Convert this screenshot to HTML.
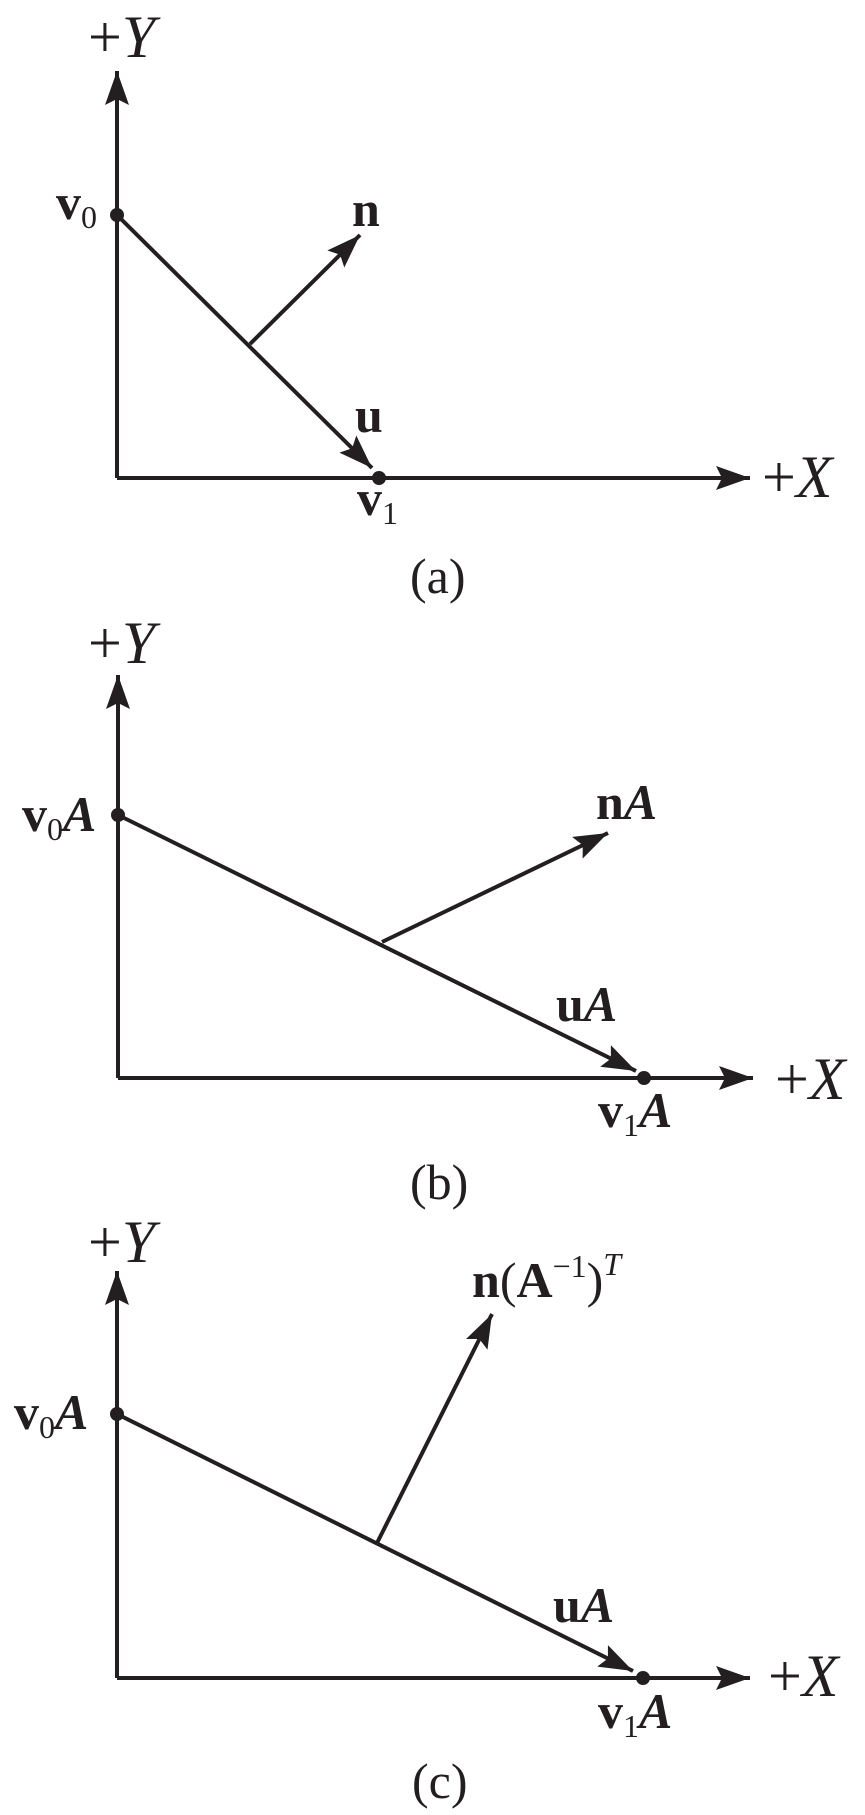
<!DOCTYPE html>
<html><head><meta charset="utf-8"><style>
html,body{margin:0;padding:0;background:#fff;}
svg{display:block}
text{font-family:"Liberation Serif",serif;fill:#231f20}
.b{font-weight:bold}
.i{font-style:italic}
</style></head><body>
<svg width="865" height="1815" viewBox="0 0 865 1815" xmlns="http://www.w3.org/2000/svg">
<defs>
<marker id="ah" markerUnits="userSpaceOnUse" markerWidth="40" markerHeight="30" refX="34" refY="12" orient="auto">
<path d="M34,12 L0,0 L6,12 L0,24 Z" fill="#231f20"/>
</marker>
</defs>
<g stroke="#231f20" stroke-width="4" fill="none">
<polyline points="117,478 117,71" marker-end="url(#ah)"/>
<polyline points="117,478 750,478" marker-end="url(#ah)"/>
<line x1="117" y1="215" x2="372" y2="468" marker-end="url(#ah)"/>
<line x1="250" y1="344" x2="360" y2="235" marker-end="url(#ah)"/>
<polyline points="118,1078 118,675" marker-end="url(#ah)"/>
<polyline points="118,1078 753,1078" marker-end="url(#ah)"/>
<line x1="118" y1="815" x2="636" y2="1071" marker-end="url(#ah)"/>
<line x1="382" y1="942" x2="608" y2="833" marker-end="url(#ah)"/>
<polyline points="117,1678 117,1271" marker-end="url(#ah)"/>
<polyline points="117,1678 750,1678" marker-end="url(#ah)"/>
<line x1="117" y1="1414" x2="633" y2="1671" marker-end="url(#ah)"/>
<line x1="377" y1="1543" x2="492" y2="1314" marker-end="url(#ah)"/>
</g>
<g fill="#231f20">
<circle cx="117" cy="215" r="7"/><circle cx="379" cy="478" r="7"/>
<circle cx="118" cy="815" r="7"/><circle cx="644" cy="1078" r="7"/>
<circle cx="117" cy="1414" r="7"/><circle cx="643" cy="1678" r="7"/>
</g>
<text x="88" y="57" font-size="60">+<tspan class="i">Y</tspan></text>
<text x="56" y="219" font-size="50" class="b">v<tspan font-size="32" font-weight="normal" dy="9">0</tspan></text>
<text x="352" y="226" font-size="50" class="b">n</text>
<text x="355" y="432" font-size="50" class="b">u</text>
<text x="357" y="515" font-size="50" class="b">v<tspan font-size="32" font-weight="normal" dy="9">1</tspan></text>
<text x="762" y="497" font-size="60">+<tspan class="i">X</tspan></text>
<text x="410" y="593" font-size="50">(a)</text>
<text x="88" y="663" font-size="60">+<tspan class="i">Y</tspan></text>
<text x="22" y="831" font-size="50" class="b">v<tspan font-size="32" font-weight="normal" dy="9">0</tspan><tspan dy="-9" class="i">A</tspan></text>
<text x="596" y="819" font-size="50" class="b">n<tspan class="i">A</tspan></text>
<text x="556" y="1021" font-size="50" class="b">u<tspan class="i">A</tspan></text>
<text x="598" y="1127" font-size="50" class="b">v<tspan font-size="32" font-weight="normal" dy="9">1</tspan><tspan dy="-9" class="i">A</tspan></text>
<text x="775" y="1099" font-size="60">+<tspan class="i">X</tspan></text>
<text x="410" y="1199" font-size="50">(b)</text>
<text x="88" y="1262" font-size="60">+<tspan class="i">Y</tspan></text>
<text x="14" y="1429" font-size="50" class="b">v<tspan font-size="32" font-weight="normal" dy="9">0</tspan><tspan dy="-9" class="i">A</tspan></text>
<text x="472" y="1297" font-size="50"><tspan class="b">n</tspan>(<tspan class="b">A</tspan><tspan font-size="32" dy="-20">−1</tspan><tspan dy="20">)</tspan><tspan font-size="32" dy="-22" class="i">T</tspan></text>
<text x="553" y="1622" font-size="50" class="b">u<tspan class="i">A</tspan></text>
<text x="598" y="1728" font-size="50" class="b">v<tspan font-size="32" font-weight="normal" dy="9">1</tspan><tspan dy="-9" class="i">A</tspan></text>
<text x="768" y="1696" font-size="60">+<tspan class="i">X</tspan></text>
<text x="412" y="1798" font-size="50">(c)</text>
</svg>
</body></html>
